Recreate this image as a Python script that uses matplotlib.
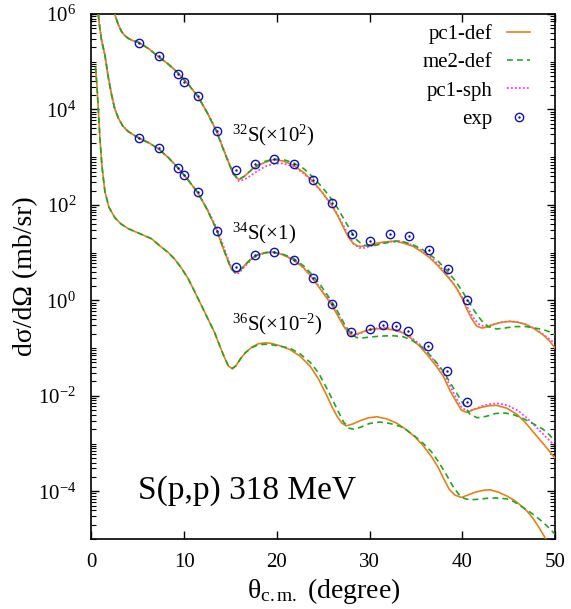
import numpy as np
import matplotlib.pyplot as plt
from matplotlib.ticker import LogLocator, FuncFormatter, NullFormatter, FixedLocator

plt.rcParams['font.family'] = 'Liberation Serif'
plt.rcParams['mathtext.fontset'] = 'custom'
plt.rcParams['mathtext.rm'] = 'Liberation Serif'
plt.rcParams['mathtext.it'] = 'Liberation Serif:italic'

# ---- data (log10 of dsigma/dOmega, already scaled) ----
# 32S (x10^2)
t32_pc1 = [2.4, 2.54, 2.9, 3.26, 3.6, 3.97, 4.5, 5.16, 6.2, 7.2, 8.3, 9.37, 10.4, 11.5, 12.5, 13.5,
           14.2, 14.75, 15.3, 15.9, 16.5, 17.3, 18.0, 18.7, 19.6, 20.7, 21.8, 22.9, 23.9, 24.9, 25.9,
           26.6, 27.2, 27.7, 28.2, 28.7, 29.1, 29.9, 30.8, 31.9, 32.9, 33.8, 34.7, 35.6, 36.5, 37.4,
           38.3, 39.0, 39.4, 40.0, 40.5, 41.0, 41.55, 42.1, 42.7, 43.3, 44.2, 45.1, 46.0, 46.9, 47.8,
           48.7, 49.4, 50.0]
l32_pc1 = [6.1, 5.98, 5.78, 5.63, 5.55, 5.49, 5.44, 5.40, 5.27, 5.11, 4.95, 4.76, 4.54, 4.27, 3.93, 3.54,
           3.18, 2.91, 2.65, 2.53, 2.60, 2.74, 2.83, 2.89, 2.95, 2.92, 2.83, 2.68, 2.49, 2.26, 2.00,
           1.76, 1.52, 1.33, 1.20, 1.14, 1.13, 1.16, 1.20, 1.23, 1.24, 1.19, 1.13, 1.02, 0.89, 0.72,
           0.52, 0.36, 0.25, 0.03, -0.19, -0.38, -0.54, -0.58, -0.56, -0.51, -0.46, -0.44, -0.46, -0.51, -0.60,
           -0.72, -0.85, -1.0]
t32_me2 = [2.4, 2.54, 2.9, 3.26, 3.6, 3.97, 4.5, 5.16, 6.2, 7.2, 8.3, 9.37, 10.4, 11.5, 12.5, 13.5,
           14.2, 14.75, 15.3, 15.9, 16.5, 17.3, 18.0, 18.7, 19.6, 20.7, 21.8, 22.9, 23.9, 24.9, 25.9,
           26.6, 27.3, 28.0, 28.6, 29.3, 30.0, 30.8, 31.9, 32.9, 33.8, 34.7, 35.6, 36.5, 37.4, 38.3,
           39.2, 40.0, 40.7, 41.4, 42.1, 42.8, 43.7, 44.6, 45.6, 46.9, 47.8, 48.7, 49.4, 50.0]
l32_me2 = [6.1, 5.98, 5.78, 5.63, 5.55, 5.49, 5.44, 5.40, 5.27, 5.11, 4.95, 4.76, 4.54, 4.27, 3.93, 3.54,
           3.18, 2.91, 2.65, 2.53, 2.60, 2.74, 2.84, 2.91, 2.96, 2.95, 2.88, 2.76, 2.58, 2.37, 2.12,
           1.92, 1.68, 1.45, 1.27, 1.16, 1.13, 1.16, 1.21, 1.24, 1.22, 1.16, 1.08, 0.96, 0.82, 0.63,
           0.42, 0.19, -0.03, -0.25, -0.43, -0.55, -0.60, -0.58, -0.55, -0.55, -0.58, -0.61, -0.66, -0.72]
t32_sph = [2.4, 2.54, 2.9, 3.26, 3.6, 3.97, 4.5, 5.16, 6.2, 7.2, 8.3, 9.37, 10.4, 11.5, 12.5, 13.5,
           14.2, 14.75, 15.3, 15.9, 16.5, 17.3, 18.0, 18.7, 19.6, 20.7, 21.8, 22.9, 23.9, 24.9, 25.9,
           26.6, 27.2, 27.8, 28.3, 28.9, 29.5, 30.3, 31.2, 32.2, 33.2, 34.1, 35.0, 35.9, 36.8, 37.7,
           38.6, 39.3, 40.0, 40.6, 41.2, 41.8, 42.4, 43.1, 44.0, 44.9, 45.8, 46.7, 47.6, 48.5, 49.3, 50.0]
l32_sph = [6.1, 5.98, 5.78, 5.63, 5.55, 5.49, 5.44, 5.40, 5.27, 5.11, 4.95, 4.76, 4.54, 4.27, 3.93, 3.56,
           3.20, 2.93, 2.65, 2.50, 2.53, 2.63, 2.72, 2.80, 2.86, 2.87, 2.80, 2.66, 2.48, 2.26, 2.01,
           1.78, 1.56, 1.33, 1.18, 1.10, 1.10, 1.15, 1.20, 1.23, 1.24, 1.20, 1.12, 1.01, 0.87, 0.69,
           0.47, 0.28, 0.06, -0.16, -0.37, -0.50, -0.55, -0.52, -0.47, -0.44, -0.45, -0.49, -0.57, -0.68, -0.80, -0.90]

# 34S (x1)
t34_pc1 = [0.65, 0.85, 1.1, 1.46, 1.8, 2.18, 2.5, 2.9, 3.4, 3.97, 4.6, 5.16, 6.2, 7.2, 8.3, 9.37, 10.4,
           11.5, 12.5, 13.5, 14.2, 14.75, 15.1, 15.5, 15.9, 16.6, 17.3, 18.0, 18.8, 19.6, 20.6, 21.8,
           22.9, 23.9, 24.9, 25.9, 26.6, 27.2, 27.7, 28.1, 28.7, 29.7, 30.6, 31.5, 32.6, 33.6, 34.5,
           35.4, 36.3, 37.2, 37.95, 38.7, 39.4, 39.9, 40.5, 41.2, 41.9, 42.8, 43.7, 44.8, 45.9, 46.8,
           47.7, 48.8, 49.8, 50.0]
l34_pc1 = [6.2, 5.8, 5.45, 5.14, 4.7, 4.31, 4.03, 3.82, 3.65, 3.54, 3.46, 3.40, 3.30, 3.18, 2.99, 2.77, 2.53,
           2.25, 1.90, 1.48, 1.10, 0.82, 0.66, 0.58, 0.60, 0.75, 0.88, 0.96, 1.00, 1.01, 0.96, 0.85,
           0.68, 0.45, 0.18, -0.09, -0.33, -0.54, -0.68, -0.74, -0.70, -0.63, -0.60, -0.59, -0.62, -0.68, -0.80,
           -0.96, -1.16, -1.38, -1.59, -1.90, -2.14, -2.30, -2.35, -2.29, -2.25, -2.21, -2.20, -2.26, -2.39, -2.56,
           -2.77, -3.02, -3.26, -3.30]
t34_me2 = [0.65, 0.85, 1.1, 1.46, 1.8, 2.18, 2.5, 2.9, 3.4, 3.97, 4.6, 5.16, 6.2, 7.2, 8.3, 9.37, 10.4,
           11.5, 12.5, 13.5, 14.2, 14.75, 15.1, 15.5, 15.9, 16.6, 17.3, 18.0, 18.8, 19.6, 20.6, 21.8,
           22.9, 23.9, 24.9, 25.9, 26.6, 27.3, 28.0, 28.6, 29.2, 30.0, 31.2, 32.4, 33.6, 34.5, 35.4,
           36.3, 37.2, 38.0, 38.8, 39.5, 40.2, 40.8, 41.6, 42.6, 43.6, 44.6, 45.6, 46.6, 47.6, 48.7,
           49.4, 50.0]
l34_me2 = [6.2, 5.8, 5.45, 5.14, 4.7, 4.31, 4.03, 3.82, 3.65, 3.54, 3.46, 3.40, 3.30, 3.18, 2.99, 2.77, 2.53,
           2.25, 1.90, 1.48, 1.10, 0.82, 0.66, 0.58, 0.60, 0.75, 0.88, 0.96, 1.00, 1.01, 0.97, 0.88,
           0.72, 0.52, 0.27, -0.02, -0.25, -0.50, -0.70, -0.78, -0.79, -0.77, -0.75, -0.74, -0.76, -0.83, -0.94,
           -1.10, -1.30, -1.50, -1.76, -1.98, -2.20, -2.38, -2.46, -2.43, -2.37, -2.36, -2.40, -2.48, -2.58, -2.70,
           -2.82, -2.95]
t34_sph = [0.65, 0.85, 1.1, 1.46, 1.8, 2.18, 2.5, 2.9, 3.4, 3.97, 4.6, 5.16, 6.2, 7.2, 8.3, 9.37, 10.4,
           11.5, 12.5, 13.5, 14.2, 14.75, 15.1, 15.5, 15.9, 16.6, 17.3, 18.0, 18.8, 19.6, 20.6, 21.8,
           22.9, 23.9, 24.9, 25.9, 26.6, 27.2, 27.7, 28.2, 28.8, 29.7, 30.6, 31.5, 32.6, 33.6, 34.5,
           35.4, 36.3, 37.2, 37.95, 38.7, 39.4, 40.0, 40.7, 41.4, 42.2, 43.1, 44.0, 45.0, 46.0, 47.0,
           48.0, 49.0, 50.0]
l34_sph = [6.2, 5.8, 5.45, 5.14, 4.7, 4.31, 4.03, 3.82, 3.65, 3.54, 3.46, 3.40, 3.30, 3.18, 2.99, 2.77, 2.53,
           2.25, 1.91, 1.52, 1.16, 0.86, 0.68, 0.57, 0.57, 0.72, 0.86, 0.95, 1.00, 1.01, 0.96, 0.85,
           0.68, 0.46, 0.20, -0.06, -0.30, -0.50, -0.66, -0.74, -0.71, -0.63, -0.59, -0.57, -0.60, -0.67, -0.78,
           -0.92, -1.10, -1.32, -1.52, -1.80, -2.07, -2.26, -2.33, -2.27, -2.21, -2.17, -2.16, -2.21, -2.31, -2.47,
           -2.66, -2.86, -3.05]

# 36S (x10^-2)
t36_pc1 = [0.45, 0.6, 0.75, 0.92, 1.15, 1.46, 1.9, 2.54, 3.2, 4.0, 5.2, 6.5, 7.4, 8.3, 9.0, 9.7, 10.45,
           11.2, 11.9, 12.6, 13.3, 13.9, 14.4, 14.8, 15.2, 15.6, 16.1, 16.6, 17.3, 18.0, 18.8, 19.4,
           20.3, 21.4, 22.5, 23.6, 24.5, 25.4, 26.0, 26.5, 27.0, 27.5, 28.2, 29.0, 29.9, 30.8, 31.8,
           32.9, 33.9, 34.9, 35.8, 36.7, 37.4, 38.0, 38.6, 39.2, 39.9, 40.6, 41.4, 42.3, 43.0, 43.9,
           44.8, 45.6, 46.2, 47.0, 47.7, 48.4, 49.0, 49.4]
l36_pc1 = [4.88, 4.5, 4.0, 3.40, 2.8, 2.28, 1.95, 1.73, 1.6, 1.50, 1.40, 1.29, 1.14, 1.00, 0.86, 0.68, 0.45,
           0.16, -0.12, -0.40, -0.68, -0.98, -1.22, -1.38, -1.43, -1.37, -1.22, -1.10, -0.98, -0.91, -0.89, -0.90,
           -0.95, -1.03, -1.17, -1.38, -1.65, -2.0, -2.25, -2.43, -2.57, -2.63, -2.59, -2.52, -2.46, -2.44, -2.48,
           -2.57, -2.70, -2.86, -3.05, -3.28, -3.50, -3.74, -3.96, -4.08, -4.13, -4.08, -4.02, -3.98, -3.97, -4.02,
           -4.10, -4.19, -4.28, -4.42, -4.59, -4.80, -5.0, -5.12]
t36_me2 = [0.45, 0.6, 0.75, 0.92, 1.15, 1.46, 1.9, 2.54, 3.2, 4.0, 5.2, 6.5, 7.4, 8.3, 9.0, 9.7, 10.45,
           11.2, 11.9, 12.6, 13.3, 13.9, 14.4, 14.8, 15.2, 15.6, 16.1, 16.6, 17.3, 18.0, 18.8, 19.4,
           20.3, 21.4, 22.5, 23.6, 24.5, 25.4, 26.0, 26.6, 27.2, 27.8, 28.3, 29.0, 30.0, 31.1, 32.2,
           33.3, 34.0, 34.9, 35.8, 36.7, 37.5, 38.3, 39.0, 39.6, 40.2, 40.8, 41.6, 42.6, 43.6, 44.8,
           45.6, 46.4, 47.4, 48.4, 49.2, 50.0]
l36_me2 = [4.88, 4.5, 4.0, 3.40, 2.8, 2.28, 1.95, 1.73, 1.6, 1.50, 1.40, 1.29, 1.14, 1.00, 0.86, 0.68, 0.45,
           0.16, -0.12, -0.40, -0.68, -0.98, -1.22, -1.38, -1.43, -1.37, -1.22, -1.10, -0.99, -0.93, -0.92, -0.93,
           -0.96, -1.00, -1.12, -1.30, -1.52, -1.85, -2.08, -2.32, -2.55, -2.68, -2.70, -2.66, -2.58, -2.55, -2.58,
           -2.64, -2.72, -2.85, -3.00, -3.18, -3.40, -3.66, -3.90, -4.06, -4.15, -4.18, -4.17, -4.15, -4.14, -4.16,
           -4.22, -4.32, -4.45, -4.60, -4.74, -4.90]

# experimental points
t32_exp = [5.16, 7.28, 9.37, 9.98, 11.45, 13.54, 15.59, 17.64, 19.7, 21.8, 23.9, 26.0, 28.07, 30.1,
           32.2, 34.3, 36.4, 38.5, 40.5]
l32_exp = [5.40, 5.11, 4.75, 4.57, 4.28, 3.54, 2.73, 2.86, 2.96, 2.86, 2.53, 2.05, 1.39, 1.24,
           1.39, 1.34, 1.05, 0.65, 0.00]
t34_exp = [5.16, 7.28, 9.37, 9.98, 11.45, 13.54, 15.59, 17.64, 19.7, 21.8, 23.9, 25.9, 28.0, 30.0,
           31.4, 32.8, 34.2, 36.3, 38.35, 40.5]
l34_exp = [3.40, 3.19, 2.78, 2.63, 2.26, 1.46, 0.70, 0.96, 1.01, 0.85, 0.46, -0.07, -0.67, -0.61,
           -0.51, -0.54, -0.65, -0.96, -1.49, -2.14]

x_ticks = [0, 10, 20, 30, 40, 50]
y_ticks = [1e-4, 1e-2, 1e0, 1e2, 1e4, 1e6]

c_pc1 = '#e8801a'
c_me2 = '#1fa81f'
c_sph = '#ff33ff'
c_exp = '#1010c0'

fig = plt.figure(figsize=(5.71, 6.09), dpi=100)
ax = fig.add_axes([0.160, 0.115, 0.812, 0.862])

def p(l):
    return 10.0 ** np.array(l)

kw_pc1 = dict(color=c_pc1, lw=1.2, ls='-')
kw_me2 = dict(color=c_me2, lw=1.2, ls=(0, (3.5, 2.5)))
kw_sph = dict(color=c_sph, lw=1.3, ls=(0, (1, 1.2)))

h1, = ax.plot(t32_pc1, p(l32_pc1), **kw_pc1, zorder=3)
h2, = ax.plot(t32_me2, p(l32_me2), **kw_me2, zorder=4)
h3, = ax.plot(t32_sph, p(l32_sph), **kw_sph, zorder=2)
ax.plot(t34_pc1, p(l34_pc1), **kw_pc1, zorder=3)
ax.plot(t34_me2, p(l34_me2), **kw_me2, zorder=4)
ax.plot(t34_sph, p(l34_sph), **kw_sph, zorder=2)
ax.plot(t36_pc1, p(l36_pc1), **kw_pc1, zorder=3)
ax.plot(t36_me2, p(l36_me2), **kw_me2, zorder=4)

for tt, ll in [(t32_exp, l32_exp), (t34_exp, l34_exp)]:
    h4, = ax.plot(tt, p(ll), ls='none', marker='o', ms=6, mfc='none', mec=c_exp, mew=1.0, zorder=5)
    h5, = ax.plot(tt, p(ll), ls='none', marker='.', ms=1.5, color=c_exp, zorder=5)

ax.set_yscale('log')
ax.set_xlim(0, 50)
ax.set_ylim(1e-5, 1e6)
ax.xaxis.set_major_locator(FixedLocator(x_ticks))
ax.yaxis.set_major_locator(FixedLocator(y_ticks))
ax.yaxis.set_minor_locator(LogLocator(base=10, subs=np.arange(1, 10), numticks=40))
ax.yaxis.set_minor_formatter(NullFormatter())
ax.yaxis.set_major_formatter(FuncFormatter(lambda v, pos: r'10$^{%d}$' % round(np.log10(v))))
ax.tick_params(which='both', direction='in', top=True, right=True, labelsize=15)
ax.tick_params(which='major', length=6, width=1)
ax.tick_params(which='minor', length=3.5, width=0.8)
ax.tick_params(axis='x', pad=10)
ax.tick_params(axis='y', pad=11)
for s in ax.spines.values():
    s.set_linewidth(1.2)

ax.set_xlabel(r'θ$_{\rm c.m.}$ (degree)', fontsize=20, labelpad=3)
ax.set_ylabel('dσ/dΩ (mb/sr)', fontsize=20, labelpad=0)

ax.text(0.303, 0.757, r'$^{32}$S(×10$^{2}$)', transform=ax.transAxes, fontsize=15)
ax.text(0.303, 0.570, r'$^{34}$S(×1)', transform=ax.transAxes, fontsize=15)
ax.text(0.303, 0.398, r'$^{36}$S(×10$^{-2}$)', transform=ax.transAxes, fontsize=15)
ax.text(0.100, 0.076, 'S(p,p) 318 MeV', transform=ax.transAxes, fontsize=24)

ax.legend([h1, h2, h3, (h4, h5)], ['pc1-def', 'me2-def', 'pc1-sph', 'exp'],
          loc='upper right', bbox_to_anchor=(0.946, 0.981), frameon=False,
          markerfirst=False, fontsize=15, handlelength=1.1, handletextpad=0.7,
          labelspacing=0.42, borderpad=0, borderaxespad=0)

fig.savefig('out.png', dpi=100)
